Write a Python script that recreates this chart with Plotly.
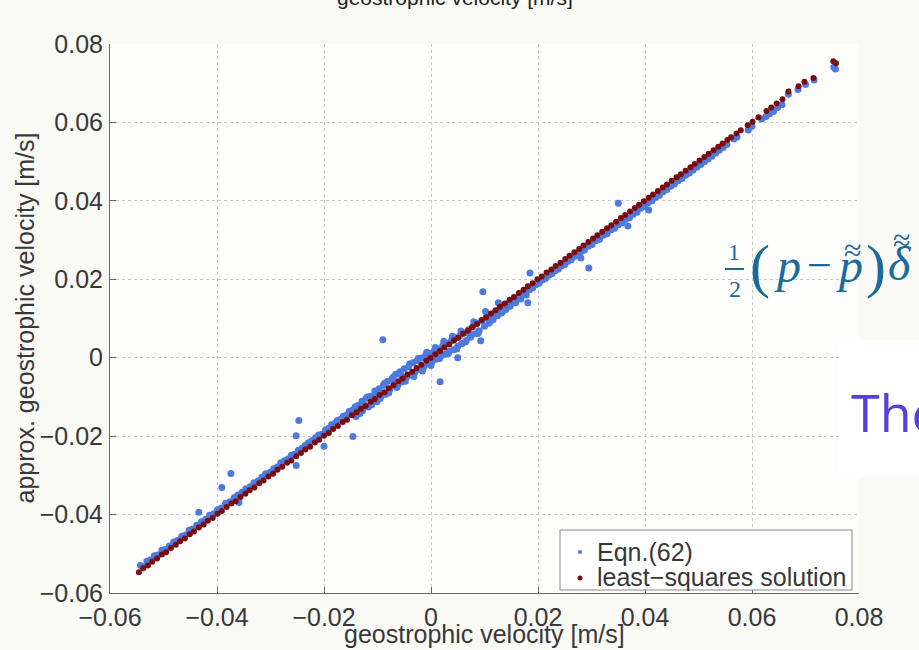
import plotly.graph_objects as go

# ---------------- data ----------------
blue_x = [
    -0.0543, -0.0538, -0.0531, -0.0525, -0.0517, -0.0511, -0.0503, -0.0497, -0.0489, -0.0481,
    -0.0474, -0.0466, -0.0459, -0.0452, -0.0446, -0.0438, -0.0434, -0.0429, -0.0421, -0.0414,
    -0.0406, -0.0399, -0.0391, -0.0392, -0.0384, -0.0376, -0.0374, -0.0368, -0.0359, -0.0361,
    -0.0353, -0.0346, -0.0338, -0.0331, -0.0323, -0.0316, -0.0309, -0.0301, -0.0294, -0.0287,
    -0.0281, -0.0274, -0.0267, -0.0261, -0.0255, -0.0252, -0.0252, -0.0247, -0.0248, -0.0241,
    -0.0235, -0.0229, -0.0223, -0.0216, -0.0210, -0.0204, -0.0200, -0.0197, -0.0191, -0.0186,
    -0.0180, -0.0175, -0.0169, -0.0164, -0.0158, -0.0153, -0.0146, -0.0147, -0.0142, -0.0137,
    -0.0133, -0.0129, -0.0125, -0.0121, -0.0117, -0.0113, -0.0109, -0.0105, -0.0101, -0.0097,
    -0.0093, -0.0090, -0.0089, -0.0085, -0.0081, -0.0077, -0.0073, -0.0069, -0.0066, -0.0062,
    -0.0058, -0.0054, -0.0050, -0.0046, -0.0042, -0.0038, -0.0034, -0.0030, -0.0026, -0.0022,
    -0.0018, -0.0014, -0.0010, -0.0006, -0.0002, 0.0002, 0.0006, 0.0010, 0.0014, 0.0017,
    0.0018, 0.0022, 0.0026, 0.0030, 0.0034, 0.0038, 0.0042, 0.0046, 0.0050, 0.0050,
    0.0054, 0.0058, 0.0062, 0.0066, 0.0070, 0.0074, 0.0078, 0.0082, 0.0086, 0.0090,
    0.0093, 0.0097, 0.0095, 0.0100, 0.0104, 0.0108, 0.0112, 0.0116, 0.0120, 0.0124,
    0.0128, 0.0132, 0.0136, 0.0140, 0.0144, 0.0148, 0.0153, 0.0158, 0.0163, 0.0168,
    0.0173, 0.0178, 0.0181, 0.0185, 0.0184, 0.0190, 0.0196, 0.0202, 0.0208, 0.0214,
    0.0220, 0.0226, 0.0232, 0.0238, 0.0244, 0.0250, 0.0256, 0.0262, 0.0268, 0.0274,
    0.0280, 0.0281, 0.0287, 0.0295, 0.0294, 0.0301, 0.0308, 0.0315, 0.0322, 0.0329,
    0.0336, 0.0343, 0.0350, 0.0350, 0.0357, 0.0364, 0.0368, 0.0371, 0.0378, 0.0385,
    0.0392, 0.0399, 0.0407, 0.0406, 0.0413, 0.0420, 0.0427, 0.0434, 0.0441, 0.0448,
    0.0455, 0.0462, 0.0469, 0.0476, 0.0483, 0.0490, 0.0497, 0.0504, 0.0511, 0.0518,
    0.0525, 0.0532, 0.0539, 0.0546, 0.0553, 0.0566, 0.0572, 0.0593, 0.0600, 0.0618,
    0.0626, 0.0633, 0.0640, 0.0648, 0.0656, 0.0668, 0.0686, 0.0700, 0.0716, 0.0753, 0.0756,
    -0.0140, -0.0128, -0.0119, -0.0111, -0.0103, -0.0095, -0.0087, -0.0079, -0.0071, -0.0064,
    -0.0056, -0.0048, -0.0040, -0.0032, -0.0024, -0.0016, -0.0008, 0.0000, 0.0008, 0.0016,
    0.0024, 0.0032, 0.0040, 0.0048, 0.0056, 0.0064, 0.0072, 0.0080, 0.0088, 0.0102,
    0.0110, 0.0126, 0.0134,
]
blue_y = [
    -0.0530, -0.0533, -0.0519, -0.0516, -0.0505, -0.0503, -0.0491, -0.0489, -0.0480, -0.0470,
    -0.0466, -0.0455, -0.0452, -0.0440, -0.0437, -0.0427, -0.0394, -0.0418, -0.0412, -0.0402,
    -0.0398, -0.0388, -0.0331, -0.0383, -0.0371, -0.0367, -0.0295, -0.0357, -0.0369, -0.0350,
    -0.0343, -0.0334, -0.0329, -0.0319, -0.0314, -0.0305, -0.0296, -0.0292, -0.0283, -0.0279,
    -0.0268, -0.0263, -0.0258, -0.0249, -0.0246, -0.0275, -0.0199, -0.0160, -0.0236, -0.0231,
    -0.0223, -0.0217, -0.0212, -0.0204, -0.0197, -0.0195, -0.0226, -0.0184, -0.0180, -0.0171,
    -0.0168, -0.0160, -0.0157, -0.0149, -0.0147, -0.0137, -0.0201, -0.0134, -0.0126, -0.0122,
    -0.0142, -0.0111, -0.0119, -0.0103, -0.0126, -0.0098, -0.0109, -0.0085, -0.0112, -0.0079,
    -0.0097, 0.0046, -0.0070, -0.0093, -0.0060, -0.0081, -0.0055, -0.0068, -0.0042, -0.0070,
    -0.0036, -0.0061, -0.0028, -0.0050, -0.0023, -0.0044, -0.0013, -0.0037, -0.0008, -0.0030,
    -0.0001, -0.0024, 0.0006, -0.0016, 0.0011, -0.0010, 0.0018, -0.0004, 0.0022, -0.0061,
    0.0004, 0.0031, 0.0009, 0.0037, 0.0016, 0.0043, 0.0020, 0.0051, 0.0000, 0.0029,
    0.0056, 0.0036, 0.0063, 0.0044, 0.0071, 0.0052, 0.0079, 0.0061, 0.0088, 0.0069,
    0.0043, 0.0168, 0.0094, 0.0080, 0.0102, 0.0088, 0.0110, 0.0097, 0.0117, 0.0107,
    0.0124, 0.0114, 0.0132, 0.0123, 0.0139, 0.0131, 0.0146, 0.0140, 0.0155, 0.0150,
    0.0164, 0.0160, 0.0140, 0.0216, 0.0173, 0.0178, 0.0186, 0.0190, 0.0198, 0.0202,
    0.0210, 0.0214, 0.0222, 0.0226, 0.0234, 0.0238, 0.0246, 0.0250, 0.0258, 0.0262,
    0.0254, 0.0271, 0.0275, 0.0229, 0.0284, 0.0289, 0.0298, 0.0302, 0.0312, 0.0316,
    0.0326, 0.0330, 0.0394, 0.0339, 0.0344, 0.0353, 0.0336, 0.0357, 0.0366, 0.0371,
    0.0381, 0.0385, 0.0377, 0.0395, 0.0400, 0.0409, 0.0414, 0.0423, 0.0429, 0.0437,
    0.0443, 0.0451, 0.0457, 0.0465, 0.0471, 0.0479, 0.0486, 0.0493, 0.0500, 0.0507,
    0.0514, 0.0522, 0.0529, 0.0536, 0.0544, 0.0558, 0.0563, 0.0581, 0.0590, 0.0609,
    0.0615, 0.0622, 0.0628, 0.0638, 0.0645, 0.0672, 0.0684, 0.0697, 0.0708, 0.0741, 0.0736,
    -0.0150, -0.0135, -0.0100, -0.0120, -0.0092, -0.0104, -0.0065, -0.0090, -0.0050, -0.0076,
    -0.0044, -0.0060, -0.0016, -0.0048, -0.0002, -0.0034, 0.0014, -0.0020, 0.0026, -0.0002,
    0.0042, 0.0010, 0.0055, 0.0022, 0.0068, 0.0040, 0.0060, 0.0092, 0.0062, 0.0118,
    0.0092, 0.0140, 0.0118,
]

red_x = [
    -0.0546, -0.0538, -0.0529, -0.0521, -0.0512, -0.0503, -0.0495, -0.0486, -0.0477, -0.0469,
    -0.0460, -0.0451, -0.0443, -0.0434, -0.0425, -0.0417, -0.0408, -0.0399, -0.0391, -0.0382,
    -0.0373, -0.0365, -0.0356, -0.0347, -0.0339, -0.0330, -0.0321, -0.0313, -0.0304, -0.0295,
    -0.0287, -0.0278, -0.0269, -0.0261, -0.0252, -0.0243, -0.0235, -0.0226, -0.0217, -0.0209,
    -0.0200, -0.0191, -0.0183, -0.0174, -0.0165, -0.0157, -0.0148, -0.0139, -0.0131, -0.0122,
    -0.0113, -0.0105, -0.0096, -0.0087, -0.0079, -0.0070, -0.0061, -0.0053, -0.0044, -0.0035,
    -0.0027, -0.0018, -0.0009, -0.0001, 0.0008, 0.0017, 0.0025, 0.0034, 0.0043, 0.0051,
    0.0060, 0.0069, 0.0077, 0.0086, 0.0095, 0.0103, 0.0112, 0.0121, 0.0129, 0.0138,
    0.0147, 0.0155, 0.0164, 0.0173, 0.0181, 0.0190, 0.0199, 0.0207, 0.0216, 0.0225,
    0.0233, 0.0242, 0.0251, 0.0259, 0.0268, 0.0277, 0.0285, 0.0294, 0.0303, 0.0311,
    0.0320, 0.0329, 0.0337, 0.0346, 0.0355, 0.0363, 0.0372, 0.0381, 0.0389, 0.0398,
    0.0407, 0.0415, 0.0424, 0.0433, 0.0441, 0.0450, 0.0459, 0.0467, 0.0476, 0.0485,
    0.0493, 0.0502, 0.0511, 0.0519, 0.0528, 0.0537, 0.0545, 0.0554, 0.0561,
    0.0571, 0.0579, 0.0592, 0.0601, 0.0612, 0.0627, 0.0636, 0.0646, 0.0657, 0.0668,
    0.0687, 0.0698, 0.0715, 0.0752, 0.0757,
]
red_y = [
    -0.0547, -0.0537, -0.0530, -0.0520, -0.0512, -0.0502, -0.0496, -0.0485, -0.0477, -0.0468,
    -0.0461, -0.0450, -0.0443, -0.0433, -0.0425, -0.0416, -0.0409, -0.0398, -0.0391, -0.0381,
    -0.0372, -0.0366, -0.0355, -0.0347, -0.0338, -0.0331, -0.0320, -0.0313, -0.0303, -0.0296,
    -0.0286, -0.0278, -0.0268, -0.0262, -0.0251, -0.0243, -0.0234, -0.0227, -0.0216, -0.0209,
    -0.0199, -0.0192, -0.0182, -0.0174, -0.0164, -0.0158, -0.0147, -0.0139, -0.0130, -0.0123,
    -0.0112, -0.0105, -0.0095, -0.0088, -0.0078, -0.0070, -0.0060, -0.0053, -0.0043, -0.0036,
    -0.0026, -0.0018, -0.0008, -0.0001, 0.0009, 0.0017, 0.0026, 0.0034, 0.0044, 0.0051,
    0.0061, 0.0069, 0.0078, 0.0086, 0.0096, 0.0103, 0.0113, 0.0121, 0.0130, 0.0138,
    0.0148, 0.0155, 0.0165, 0.0173, 0.0182, 0.0190, 0.0200, 0.0207, 0.0217, 0.0225,
    0.0234, 0.0242, 0.0252, 0.0260, 0.0269, 0.0277, 0.0286, 0.0295, 0.0304, 0.0312,
    0.0321, 0.0330, 0.0338, 0.0347, 0.0356, 0.0364, 0.0373, 0.0382, 0.0390, 0.0399,
    0.0408, 0.0416, 0.0425, 0.0434, 0.0442, 0.0451, 0.0460, 0.0468, 0.0477, 0.0486,
    0.0494, 0.0503, 0.0512, 0.0520, 0.0529, 0.0538, 0.0546, 0.0555, 0.0562,
    0.0572, 0.0580, 0.0593, 0.0602, 0.0613, 0.0629, 0.0638, 0.0648, 0.0659, 0.0679,
    0.0692, 0.0704, 0.0713, 0.0756, 0.0751,
]

x_ticks = [-0.06, -0.04, -0.02, 0, 0.02, 0.04, 0.06, 0.08]
y_ticks = [-0.06, -0.04, -0.02, 0, 0.02, 0.04, 0.06, 0.08]

series_names = ["Eqn.(62)", "least\u2212squares solution"]
series_colors = ["#4d7ade", "#7a0d10"]
x_label = "geostrophic velocity [m/s]"
y_label = "approx. geostrophic velocity [m/s]"

# ---------------- figure ----------------
W, H = 919, 650
L, R, T, B = 110, 60, 44, 57
PW, PH = W - L - R, H - T - B


def px(xp):
    return (xp - L) / PW


def py(yp):
    return (H - B - yp) / PH


FONT = "Liberation Sans, Arial, Helvetica, sans-serif"
SERIF = "Liberation Serif, DejaVu Serif, Times New Roman, serif"
TXT = "#383838"
MATH = "#1b6a9c"

fig = go.Figure()
fig.add_trace(go.Scatter(
    x=blue_x, y=blue_y, mode="markers", name=series_names[0], showlegend=False,
    marker=dict(color=series_colors[0], size=7, line=dict(width=0)),
))
fig.add_trace(go.Scatter(
    x=red_x, y=red_y, mode="markers", name=series_names[1], showlegend=False,
    marker=dict(color=series_colors[1], size=6, line=dict(width=0)),
))

axis_common = dict(
    showgrid=True, gridcolor="#c9c9c9", griddash="dot", gridwidth=1,
    zeroline=False, showline=True, linecolor="#6a6a6a", linewidth=1,
    ticks="inside", ticklen=6, tickcolor="#6a6a6a",
    tickfont=dict(family=FONT, size=25, color=TXT), mirror=False,
)
fig.update_xaxes(range=[-0.06, 0.08], tickvals=x_ticks, ticklabelstandoff=2, **axis_common)
fig.update_yaxes(range=[-0.06, 0.08], tickvals=y_ticks, ticklabelstandoff=1, **axis_common)

annotations = [
    dict(text=x_label, x=0.5, y=py(634), xref="paper", yref="paper",
         showarrow=False, font=dict(family=FONT, size=25, color=TXT),
         xanchor="center", yanchor="middle"),
    dict(text=y_label, x=px(24), y=0.5, xref="paper", yref="paper",
         showarrow=False, textangle=-90, font=dict(family=FONT, size=25, color=TXT),
         xanchor="center", yanchor="middle"),
    # cut-off top title
    dict(text=x_label, x=px(455), y=py(-3), xref="paper", yref="paper",
         showarrow=False, font=dict(family=FONT, size=21, color="#222"),
         xanchor="center", yanchor="middle"),
    # overlaid formula pieces
    dict(text="1", x=px(734), y=py(252), xref="paper", yref="paper", showarrow=False,
         font=dict(family=SERIF, size=24, color=MATH), xanchor="center", yanchor="middle"),
    dict(text="2", x=px(735), y=py(289), xref="paper", yref="paper", showarrow=False,
         font=dict(family=SERIF, size=24, color=MATH), xanchor="center", yanchor="middle"),
    dict(text="(", x=px(760), y=py(266), xref="paper", yref="paper", showarrow=False,
         font=dict(family=SERIF, size=60, color=MATH), xanchor="center", yanchor="middle"),
    dict(text="<i>p</i>", x=px(787), y=py(265), xref="paper", yref="paper", showarrow=False,
         font=dict(family=SERIF, size=48, color=MATH), xanchor="center", yanchor="middle"),
    dict(text="\u2212", x=px(819), y=py(265), xref="paper", yref="paper", showarrow=False,
         font=dict(family=SERIF, size=44, color=MATH), xanchor="center", yanchor="middle"),
    dict(text="<i>p</i>", x=px(849), y=py(265), xref="paper", yref="paper", showarrow=False,
         font=dict(family=SERIF, size=48, color=MATH), xanchor="center", yanchor="middle"),
    dict(text="\u2248", x=px(853), y=py(250), xref="paper", yref="paper", showarrow=False,
         font=dict(family=SERIF, size=32, color=MATH), xanchor="center", yanchor="middle"),
    dict(text=")", x=px(876), y=py(266), xref="paper", yref="paper", showarrow=False,
         font=dict(family=SERIF, size=60, color=MATH), xanchor="center", yanchor="middle"),
    dict(text="<i>\u03b4</i>", x=px(899), y=py(263), xref="paper", yref="paper", showarrow=False,
         font=dict(family=SERIF, size=48, color=MATH), xanchor="center", yanchor="middle"),
    dict(text="\u2248", x=px(902), y=py(240), xref="paper", yref="paper", showarrow=False,
         font=dict(family=SERIF, size=32, color=MATH), xanchor="center", yanchor="middle"),
    dict(text="The", x=px(849), y=py(411), xref="paper", yref="paper", showarrow=False,
         font=dict(family="Open Sans, Noto Sans, sans-serif", size=52, color="#5a40db"),
         xanchor="left", yanchor="middle"),
    # legend texts
    dict(text=series_names[0], x=px(595), y=py(552), xref="paper", yref="paper",
         showarrow=False, font=dict(family=FONT, size=25, color=TXT),
         xanchor="left", yanchor="middle"),
    dict(text=series_names[1], x=px(595), y=py(577), xref="paper", yref="paper",
         showarrow=False, font=dict(family=FONT, size=25, color=TXT),
         xanchor="left", yanchor="middle"),
]

shapes = [
    dict(type="line", xref="paper", yref="paper", x0=px(725), x1=px(744),
         y0=py(269), y1=py(269), line=dict(color=MATH, width=2), layer="above"),
    dict(type="rect", xref="paper", yref="paper", x0=px(839), x1=px(930),
         y0=py(477), y1=py(340), fillcolor="white", line=dict(width=0), layer="above"),
    # legend box and symbols
    dict(type="rect", xref="paper", yref="paper", x0=px(560), x1=px(852),
         y0=py(590), y1=py(530), fillcolor="white",
         line=dict(color="#8a8a8a", width=1), layer="above"),
    dict(type="circle", xref="paper", yref="paper", x0=px(578), x1=px(582),
         y0=py(554), y1=py(550), fillcolor=series_colors[0],
         line=dict(width=0), layer="above"),
    dict(type="circle", xref="paper", yref="paper", x0=px(577.5), x1=px(582.5),
         y0=py(580.5), y1=py(575.5), fillcolor=series_colors[1],
         line=dict(width=0), layer="above"),
]

fig.update_layout(
    width=W, height=H,
    margin=dict(l=L, r=R, t=T, b=B),
    paper_bgcolor="#f9f9f6", plot_bgcolor="#fdfdfb",
    font=dict(family=FONT, color=TXT),
    showlegend=False,
    annotations=annotations,
    shapes=shapes,
)

fig.write_html(
    "out.html",
    config={"displayModeBar": False},
    post_script="document.body.style.margin='0';document.body.style.padding='0';",
)
